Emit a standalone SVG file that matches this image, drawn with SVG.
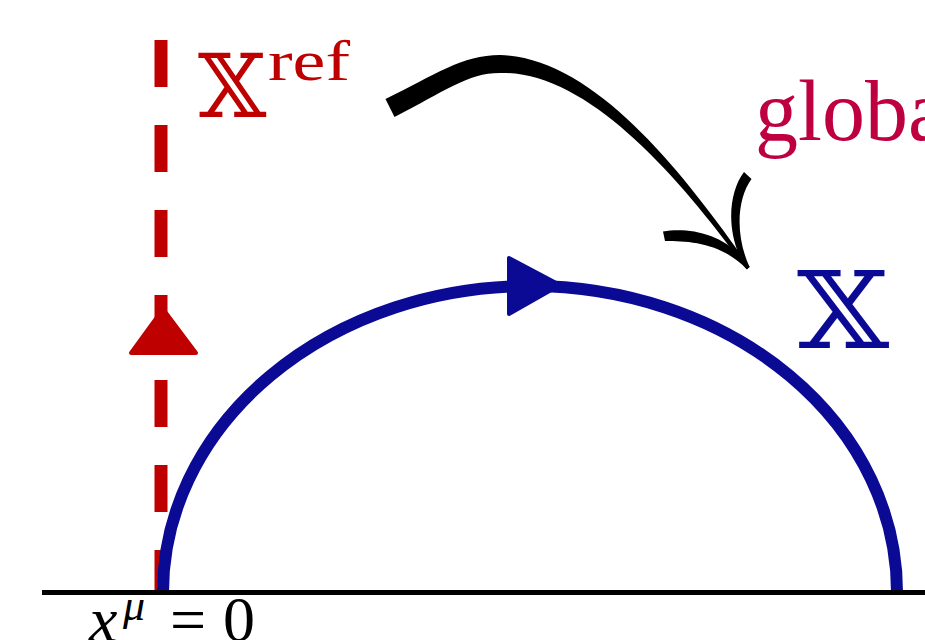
<svg xmlns="http://www.w3.org/2000/svg" width="925" height="640" viewBox="0 0 925 640">
<style>
.red{fill:#BF0000}
.blue{fill:#0A0A94}
.txt{font-family:"Liberation Serif","DejaVu Serif",serif}
.dbl{font-family:"DejaVu Serif","DejaVu Sans","Noto Sans",serif}
</style>
<rect width="925" height="640" fill="#ffffff"/>
<g id="reference-path">
<line x1="161" y1="40" x2="161" y2="592" stroke="#BF0000" stroke-width="13" stroke-dasharray="47 38"/>
<polygon points="163,309 131,353 196,353" fill="#BF0000" stroke="#BF0000" stroke-width="4" stroke-linejoin="round"/>
</g>
<g id="contour">
<path d="M163,592 A367,306 0 0 1 897,592" fill="none" stroke="#0A0A94" stroke-width="12"/>
<polygon points="509,258 509,314 560,285" fill="#0A0A94" stroke="#0A0A94" stroke-width="4" stroke-linejoin="round"/>
</g>
<g id="axis">
<line x1="42" y1="592.5" x2="925" y2="592.5" stroke="#000" stroke-width="5"/>
</g>
<g id="connectors">
<path d="M385.5,99.1 C435.1,74.6 462.2,55.1 500,55 C593.9,57.6 682.4,171.2 749.6,266.8 L746.4,269.2 C677.6,174.8 586.1,70.4 500,73 C467.8,72.9 444.9,91.4 394.5,116.9 Z" fill="#000"/>
<path d="M663,231.5 C690,227 728,234 749.5,267 L747,269.5 C722,243 690,241 665,241 Z" fill="#000"/>
<path d="M744,172 C728,193 725,235 746.5,269 L749.5,267 C735,235 737,199 751.5,179 Z" fill="#000"/>
</g>
<g id="label-xref">
<text class="dbl red" x="198" y="117" font-size="88">𝕏</text>
<text class="txt red" x="268" y="80" font-size="58" textLength="82" lengthAdjust="spacingAndGlyphs">ref</text>
</g>
<g id="label-global">
<text class="txt" fill="#BF0040" x="755" y="140" font-size="86">globa</text>
</g>
<g id="label-x">
<text class="dbl blue" font-size="106" transform="translate(797,348) scale(1.12,1)">𝕏</text>
</g>
<g id="label-origin">
<text class="txt" font-size="64" y="641"><tspan x="89" font-style="italic">x</tspan><tspan x="123" y="620" font-size="44" font-style="italic">μ</tspan><tspan x="170" y="641">=</tspan><tspan x="223">0</tspan></text>
</g>
</svg>
